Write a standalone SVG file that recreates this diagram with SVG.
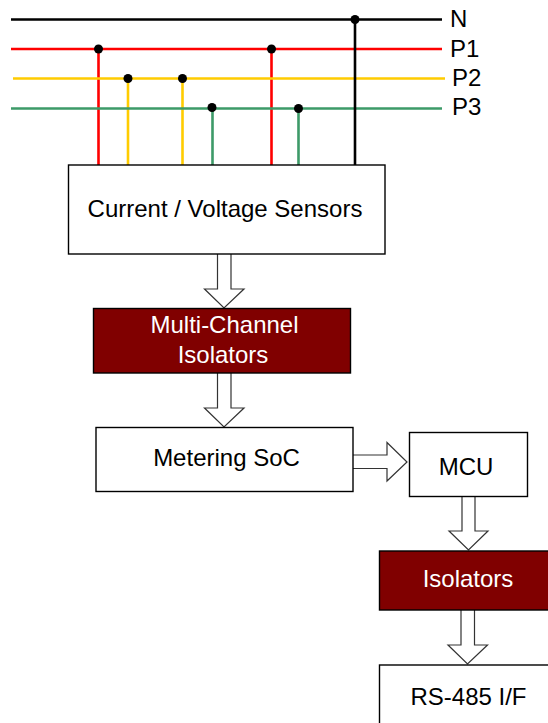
<svg xmlns="http://www.w3.org/2000/svg" width="548" height="723" viewBox="0 0 548 723">
<style>
text{font-family:"Liberation Sans",Arial,sans-serif;font-size:24px;fill:#000}
.c{text-anchor:middle}
.w{fill:#fff}
.box{fill:#fff;stroke:#000;stroke-width:1.4}
.dark{fill:#800000;stroke:#000;stroke-width:1.4}
.wire{fill:none;stroke-width:2.6}
.k{stroke:#000}.r{stroke:#f00}.y{stroke:#fc0}.g{stroke:#3d9a68}
.dot{fill:#000}
.arrow{fill:#fff;stroke:#333;stroke-width:1.2}
</style>
<g id="connectors">
<path class="wire r" d="M11 49H442M98.500 49V165M271.500 49V165"/>
<path class="wire y" d="M13 78.500H445M128 78.500V165M182.500 78.500V165"/>
<path class="wire g" d="M11 108.500H442M212.500 108.500V165M298.500 108.500V165"/>
<path class="wire k" d="M11 19.500H442M355 19.500V165"/>
<circle class="dot" cx="98.500" cy="49" r="4.500"/>
<circle class="dot" cx="271.500" cy="49" r="4.500"/>
<circle class="dot" cx="128" cy="78.500" r="4.500"/>
<circle class="dot" cx="182.500" cy="78.500" r="4.500"/>
<circle class="dot" cx="212" cy="107.500" r="4.500"/>
<circle class="dot" cx="298.500" cy="108.500" r="4.500"/>
<circle class="dot" cx="355" cy="19.500" r="4.500"/>
<path class="arrow" d="M217.500 254V289H204.500L224 308L244 289H231V254"/>
<path class="arrow" d="M217.500 373V408H204.500L224 427L244 408H231V373"/>
<path class="arrow" d="M353 455H387V442.500L407 462L387 481V468.500H353"/>
<path class="arrow" d="M462 496.500V531H449L468.500 550L488 531H475V496.500"/>
<path class="arrow" d="M461 610V645H448L467.500 664L487.500 645H474.500V610"/>
</g>
<g id="labels"><text x="450" y="27">N</text><text x="450" y="57">P1</text><text x="452" y="86">P2</text><text x="452" y="115">P3</text></g>
<g id="sensors"><rect class="box" x="68.500" y="165" width="316.500" height="89"/><text class="c" x="225" y="217">Current / Voltage Sensors</text></g>
<g id="isolators-multi"><rect class="dark" x="93.500" y="308.500" width="257" height="64.500"/><text class="c w" x="224.500" y="333">Multi-Channel</text><text class="c w" x="223" y="363">Isolators</text></g>
<g id="metering"><rect class="box" x="96" y="427.500" width="257" height="64"/><text class="c" x="226.500" y="466">Metering SoC</text></g>
<g id="mcu"><rect class="box" x="409.500" y="432.500" width="118" height="64"/><text class="c" x="466" y="475">MCU</text></g>
<g id="isolators"><rect class="dark" x="379.500" y="551" width="170" height="59"/><text class="c w" x="468" y="587">Isolators</text></g>
<g id="rs485"><rect class="box" x="379.500" y="665" width="170" height="60"/><text class="c" x="468.500" y="705">RS-485 I/F</text></g>
</svg>
